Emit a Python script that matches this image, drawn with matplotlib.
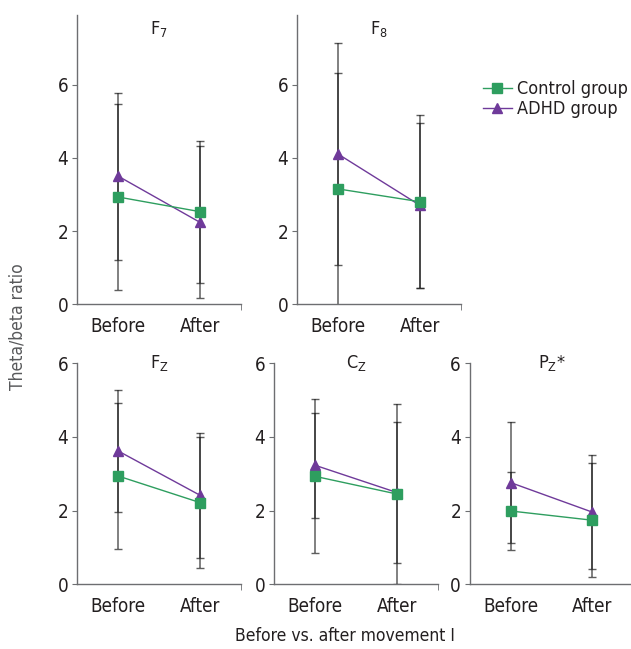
import matplotlib
matplotlib.use('Agg')
import matplotlib.pyplot as plt

plt.rcParams['font.family'] = ['DejaVu Sans']
plt.rcParams['font.stretch'] = 'condensed'
plt.rcParams['mathtext.default'] = 'regular'

TEXT = '#231f20'
GREEN = '#2e9e5f'
PURPLE = '#6f3a9a'
SPINE = '#6d6e71'

# data: mean and SD, [Before, After]
phases = ['Before', 'After']
titles = ['F$_7$', 'F$_8$', 'F$_Z$', 'C$_Z$', 'P$_Z$*']
control_mean = [[2.93, 2.53], [3.15, 2.80], [2.94, 2.22], [2.93, 2.45], [1.99, 1.74]]
control_sd = [[2.54, 1.94], [3.16, 2.36], [1.98, 1.77], [2.09, 2.44], [1.07, 1.55]]
adhd_mean = [[3.50, 2.24], [4.10, 2.70], [3.62, 2.42], [3.23, 2.49], [2.76, 1.96]]
adhd_sd = [[2.28, 2.08], [3.03, 2.26], [1.65, 1.70], [1.42, 1.92], [1.65, 1.55]]

fig = plt.figure(figsize=(6.31, 6.49), dpi=100)
W, H = 631, 649
# panel boxes in pixels: left, top, right, bottom
boxes = [(77.3, 15, 240.7, 304.3), (297.3, 15, 461, 304.3),
         (77.3, 363.3, 240.7, 584.3), (274.3, 363.3, 438, 584.3),
         (470, 363.3, 633, 584.3)]
ytops = [7.9, 7.9, 6, 6, 6]

x = [0, 1]
for i, (l, t, r, b) in enumerate(boxes):
    ax = fig.add_axes([l / W, 1 - b / H, (r - l) / W, (b - t) / H])
    for m, s in [(control_mean[i], control_sd[i]), (adhd_mean[i], adhd_sd[i])]:
        ax.errorbar(x, m, yerr=s, fmt='none', ecolor='#1a1a1a', alpha=0.7,
                    elinewidth=1.1, capsize=3, capthick=1.0, zorder=2)
    ax.plot(x, control_mean[i], color=GREEN, lw=1.0, marker='s', ms=7,
            mec=GREEN, mfc=GREEN, label='Control group', zorder=4)
    ax.plot(x, adhd_mean[i], color=PURPLE, lw=1.0, marker='^', ms=7,
            mec=PURPLE, mfc=PURPLE, label='ADHD group', zorder=3)
    ax.set_xlim(-0.5, 1.5)
    ax.set_ylim(0, ytops[i])
    ax.set_yticks([0, 2, 4, 6])
    ax.set_xticks(x)
    ax.set_xticklabels(phases)
    ax.set_xticks([1.5], minor=True)
    ax.tick_params(axis='x', which='major', length=0, pad=9, labelsize=13.5, colors=TEXT)
    ax.tick_params(axis='x', which='minor', length=4, direction='out', color=SPINE)
    ax.tick_params(axis='y', length=3.5, pad=3, labelsize=13.5, colors=TEXT, color=SPINE)
    for sp in ['top', 'right']:
        ax.spines[sp].set_visible(False)
    for sp in ['left', 'bottom']:
        ax.spines[sp].set_color(SPINE)
        ax.spines[sp].set_linewidth(1.0)
    ax.set_facecolor('none')
    if i < 2:
        ax.text(0.5, 0.985, titles[i], transform=ax.transAxes, ha='center',
                va='top', fontsize=13, color=TEXT)
    else:
        ax.text(0.5, 1.0, titles[i], transform=ax.transAxes, ha='center',
                va='center', fontsize=13, color=TEXT)
    if i == 1:
        handles, labels = ax.get_legend_handles_labels()

fig.legend(handles, labels, loc='center left', bbox_to_anchor=(483 / W, 1 - 99 / H),
           frameon=False, fontsize=13, handlelength=1.6, handletextpad=0.3,
           labelspacing=0.1, borderaxespad=0, borderpad=0, labelcolor=TEXT)

fig.text(18 / W, 1 - 327 / H, 'Theta/beta ratio', rotation=90, ha='center',
         va='center', fontsize=12.5, color='#58595b')
fig.text(345 / W, 1 - 636 / H, 'Before vs. after movement I', ha='center',
         va='center', fontsize=12.5, color=TEXT)

fig.savefig('out.png', dpi=100)
